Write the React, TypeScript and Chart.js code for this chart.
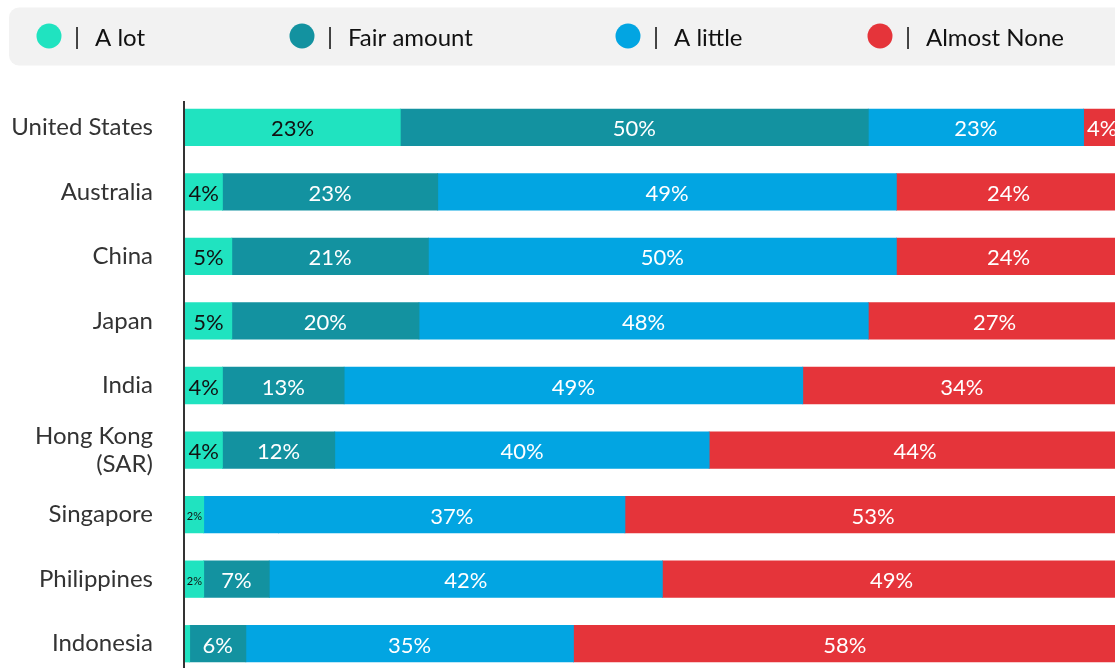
import React, { useEffect, useRef } from 'react';
import { Chart, registerables } from 'chart.js';

Chart.register(...registerables);

// ---- Data ----
const categories: (string | string[])[] = [
  'United States',
  'Australia',
  'China',
  'Japan',
  'India',
  ['Hong Kong', '(SAR)'],
  'Singapore',
  'Philippines',
  'Indonesia',
];
const aLot = [23, 4, 5, 5, 4, 4, 2, 2, 0.5];
const fairAmount = [50, 23, 21, 20, 13, 12, 8, 7, 6];
const aLittle = [23, 49, 50, 48, 49, 40, 37, 42, 35];
const almostNone = [4, 24, 24, 27, 34, 44, 53, 49, 58];

const seriesNames = ['A lot', 'Fair amount', 'A little', 'Almost None'];
const seriesColors = ['#20E3C0', '#1392A0', '#02A5E2', '#E5343A'];
// Singapore's "Fair amount" segment is rendered in the "A little" colour, unlabeled
const mergedFairIntoLittle = ['Singapore'];

const legendX = [49, 302, 628, 880];
const FONT = 'Lato, "Noto Sans", sans-serif';

const legendPlugin = {
  id: 'customLegend',
  beforeDraw(chart: any) {
    const ctx = chart.ctx;
    ctx.save();
    ctx.fillStyle = '#F2F2F2';
    ctx.beginPath();
    (ctx as any).roundRect(9, 7.5, 1125, 58, 10);
    ctx.fill();
    chart.data.datasets.forEach((ds: any, i: number) => {
      const cx = legendX[i];
      ctx.fillStyle = seriesColors[i];
      ctx.beginPath();
      ctx.arc(cx, 36, 12.5, 0, Math.PI * 2);
      ctx.fill();
      ctx.fillStyle = '#222';
      ctx.font = `24px ${FONT}`;
      ctx.textBaseline = 'middle';
      ctx.textAlign = 'center';
      ctx.fillText('|', cx + 28, 37);
      ctx.fillStyle = '#111';
      ctx.textAlign = 'left';
      ctx.fillText(ds.label, cx + 46, 38);
    });
    ctx.restore();
  },
};

const labelPlugin = {
  id: 'segmentLabels',
  afterDatasetsDraw(chart: any) {
    const ctx = chart.ctx;
    ctx.save();
    ctx.textAlign = 'center';
    ctx.textBaseline = 'middle';
    chart.data.datasets.forEach((ds: any, di: number) => {
      const meta = chart.getDatasetMeta(di);
      meta.data.forEach((el: any, i: number) => {
        const bg = Array.isArray(ds.backgroundColor) ? ds.backgroundColor[i] : ds.backgroundColor;
        if (bg !== seriesColors[di]) return;
        const w = Math.abs(el.x - el.base);
        if (w < 8) return;
        const v = ds.data[i];
        ctx.font = w < 30 ? `11px ${FONT}` : `22px ${FONT}`;
        ctx.fillStyle = di === 0 ? '#111' : '#FFFFFF';
        ctx.fillText(`${v}%`, (el.x + el.base) / 2, el.y + 2);
      });
    });
    ctx.restore();
  },
};

const axisLinePlugin = {
  id: 'axisLine',
  afterDatasetsDraw(chart: any) {
    const ctx = chart.ctx;
    const x = chart.chartArea.left - 1;
    ctx.save();
    ctx.strokeStyle = '#333';
    ctx.lineWidth = 2;
    ctx.beginPath();
    ctx.moveTo(x, 101);
    ctx.lineTo(x, chart.height);
    ctx.stroke();
    ctx.restore();
  },
};

export default function App() {
  const ref = useRef<HTMLCanvasElement>(null);

  useEffect(() => {
    if (!ref.current) return;
    const fairColors = categories.map((c) =>
      mergedFairIntoLittle.includes(Array.isArray(c) ? c.join(' ') : c) ? seriesColors[2] : seriesColors[1]
    );
    const seriesData = [aLot, fairAmount, aLittle, almostNone];
    const chart = new Chart(ref.current, {
      type: 'bar',
      data: {
        labels: categories as any,
        datasets: seriesData.map((d, i) => ({
          label: seriesNames[i],
          data: d,
          backgroundColor: i === 1 ? fairColors : seriesColors[i],
          borderWidth: 0,
          inflateAmount: 0.4,
          barPercentage: 0.565,
          categoryPercentage: 1,
        })),
      },
      options: {
        indexAxis: 'y',
        responsive: false,
        animation: false,
        devicePixelRatio: 1,
        layout: { autoPadding: false, padding: { top: 95, left: 0, right: 0, bottom: 0 } },
        plugins: {
          legend: { display: false },
          tooltip: { enabled: false },
        },
        scales: {
          x: { stacked: true, min: 0, max: 100, display: false },
          y: {
            stacked: true,
            grid: { display: false, drawTicks: false },
            border: { display: false },
            ticks: {
              color: '#333',
              font: { family: FONT, size: 24, lineHeight: 1.15 },
              padding: 32,
              autoSkip: false,
            },
            afterFit: (s: any) => {
              s.width = 185;
              s.paddingTop = 0;
              s.paddingBottom = 0;
            },
          },
        },
      } as any,
      plugins: [legendPlugin, labelPlugin, axisLinePlugin],
    });
    return () => chart.destroy();
  }, []);

  return (
    <div
      style={{
        position: 'absolute',
        left: 0,
        top: 0,
        width: 1115,
        height: 668,
        overflow: 'hidden',
        background: '#fff',
      }}
    >
      <canvas ref={ref} width={1121} height={676} style={{ display: 'block', width: 1121, height: 676 }} />
    </div>
  );
}
